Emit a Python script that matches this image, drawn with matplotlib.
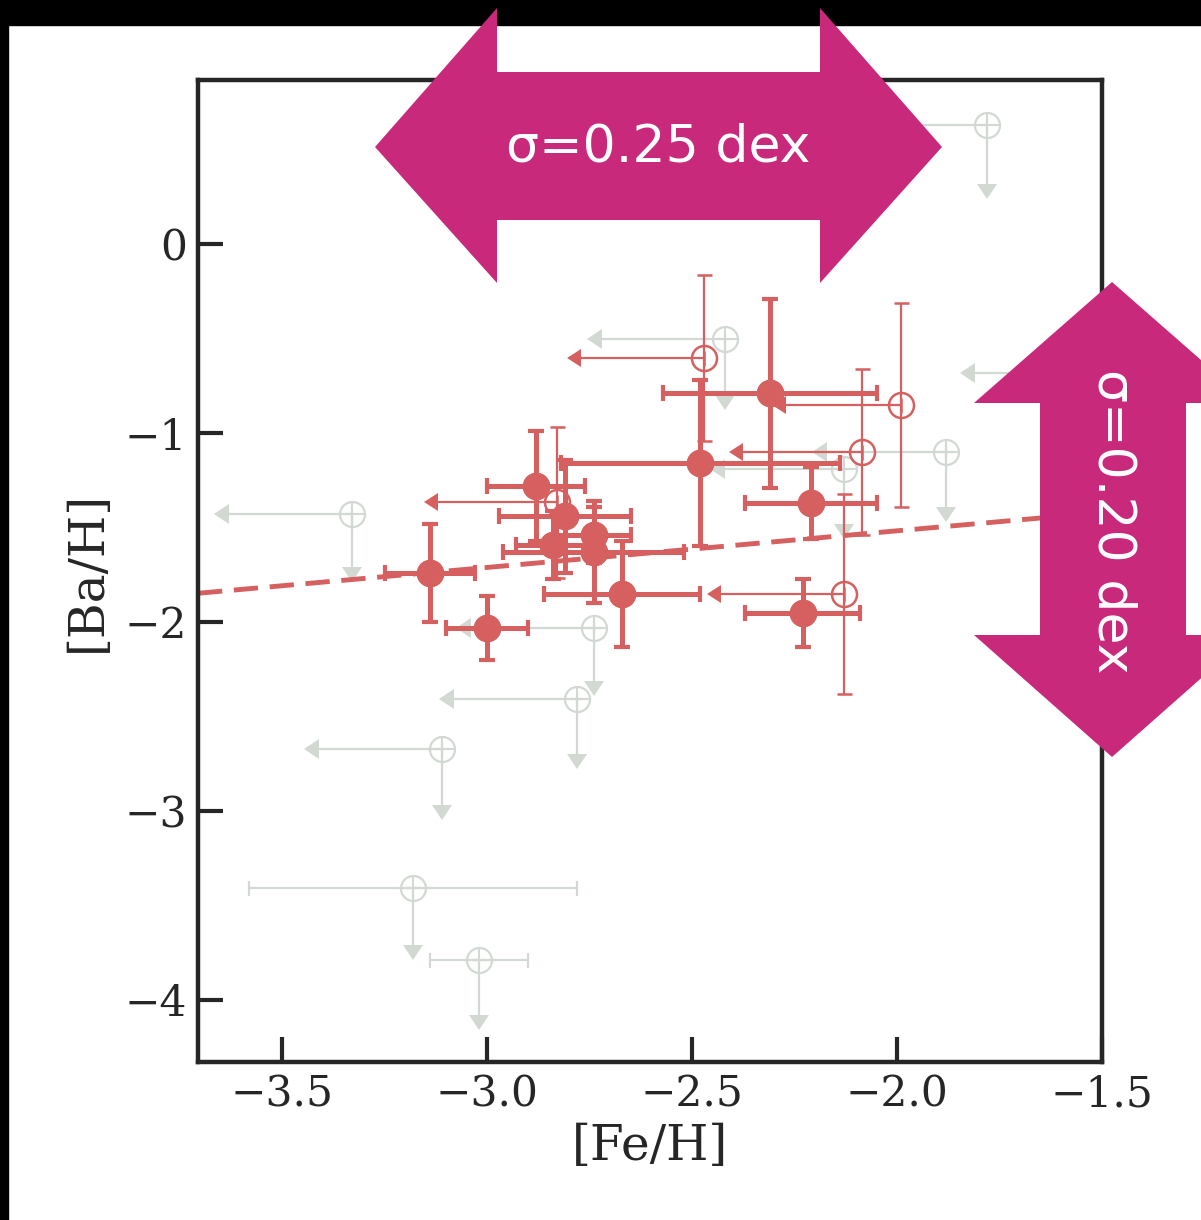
import numpy as np
import matplotlib
matplotlib.use("Agg")
import matplotlib.pyplot as plt
from matplotlib.patches import Polygon, Rectangle

# ---- data -------------------------------------------------------------
# detections: [Fe/H], [Ba/H] with symmetric errors
det_feh = [-3.14, -3.00, -2.88, -2.81, -2.84, -2.74, -2.74, -2.67, -2.48, -2.31, -2.21, -2.23]
det_bah = [-1.74, -2.03, -1.28, -1.44, -1.59, -1.54, -1.63, -1.85, -1.16, -0.79, -1.37, -1.95]
det_feh_err = [0.11, 0.10, 0.12, 0.16, 0.09, 0.09, 0.22, 0.19, 0.34, 0.26, 0.16, 0.14]
det_bah_err = [0.26, 0.17, 0.29, 0.30, 0.18, 0.15, 0.27, 0.28, 0.44, 0.50, 0.19, 0.18]

# [Fe/H] upper limits with measured [Ba/H]
lim_feh = [-2.47, -1.99, -2.085, -2.13, -2.83]
lim_bah = [-0.60, -0.85, -1.10, -1.85, -1.365]
lim_feh_len = [0.30, 0.28, 0.29, 0.30, 0.29]
lim_bah_err = [0.44, 0.54, 0.44, 0.53, 0.40]

# [Ba/H] upper limits (background sample)
ul_feh = [-1.78, -2.42, -3.33, -2.74, -2.78, -3.11, -3.18, -3.02, -1.88, -2.13, -1.51]
ul_bah = [0.63, -0.50, -1.43, -2.03, -2.41, -2.67, -3.41, -3.79, -1.10, -1.19, -0.68]
ul_feh_err = [0.30, 0.30, 0.30, 0.30, 0.30, 0.30, 0.40, 0.12, 0.29, 0.29, 0.30]
ul_feh_is_limit = [True, True, True, True, True, True, False, False, True, True, True]
ul_bah_len = [0.31, 0.30, 0.28, 0.28, 0.29, 0.30, 0.30, 0.29, 0.29, 0.29, 0.29]

# linear trend
trend_intercept = -1.847   # value at [Fe/H] = -3.7
trend_slope = 0.194

x_ticks = [-3.5, -3.0, -2.5, -2.0, -1.5]
y_ticks = [0, -1, -2, -3, -4]

# ---- style ------------------------------------------------------------
RED = "#d65f5f"
GREY = "#d2d9d2"
MAGENTA = "#c9297b"
SPINE = "#262626"

W, H = 1201, 1220
fig = plt.figure(figsize=(W / 100, H / 100), dpi=100)
fig.patch.set_facecolor("white")

# dark framing strips along the top and left edges
fig.patches.append(Rectangle((0, 1 - 25 / H), 1, 25 / H, transform=fig.transFigure,
                             color="black", zorder=0))
fig.patches.append(Rectangle((0, 0), 8 / W, 1, transform=fig.transFigure,
                             color="black", zorder=0))

ax = fig.add_axes([198 / W, 1 - 1062 / H, (1102 - 198) / W, (1062 - 80) / H])
ax.set_xlim(-3.705, -1.5)
ax.set_ylim(-4.33, 0.87)


def paint_caps(container, color, caret_size):
    """Give cap lines and limit carets a single solid colour."""
    for cap in container[1]:
        cap.set_color(color)
        cap.set_markerfacecolor(color)
        cap.set_markeredgecolor(color)
        if cap.get_marker() not in ("|", "_"):
            cap.set_markersize(caret_size)
            cap.set_markeredgewidth(0)


# background upper-limit sample
eb = ax.errorbar(ul_feh, ul_bah, xerr=ul_feh_err, yerr=ul_bah_len,
                 xuplims=ul_feh_is_limit, uplims=True,
                 fmt="o", ms=18, mfc="none", mec=GREY, mew=1.6,
                 ecolor=GREY, elinewidth=1.6, capsize=5.4, capthick=1.6, zorder=1)
paint_caps(eb, GREY, 14)
ax.plot(ul_feh, ul_bah, ls="none", marker="+", ms=17, mec=GREY, mew=1.4, zorder=1)

# trend line
xx = np.array([-3.705, -1.5])
ax.plot(xx, trend_intercept + trend_slope * (xx + 3.7), color=RED, lw=3.5,
        dashes=(5, 2.4), zorder=2)

# [Fe/H] upper limits
eb = ax.errorbar(lim_feh, lim_bah, xerr=lim_feh_len, yerr=lim_bah_err,
                 xuplims=True, fmt="o", ms=18, mfc="none", mec=RED, mew=1.8,
                 ecolor=RED, elinewidth=1.6, capsize=5.4, capthick=1.6, zorder=3)
paint_caps(eb, RED, 13)

# detections
eb = ax.errorbar(det_feh, det_bah, xerr=det_feh_err, yerr=det_bah_err,
                 fmt="o", ms=19, color=RED, mec=RED,
                 ecolor=RED, elinewidth=3.6, capsize=5.6, capthick=3.0, zorder=4)

ax.set_xticks(x_ticks)
ax.set_xticklabels([f"{v:.1f}".replace("-", "\u2212") for v in x_ticks])
ax.set_yticks(y_ticks)
ax.set_yticklabels([f"{v:d}".replace("-", "\u2212") for v in y_ticks])

for s in ax.spines.values():
    s.set_linewidth(3.2)
    s.set_color(SPINE)
ax.tick_params(direction="in", length=18, width=3.0, color=SPINE,
               labelsize=30.5, pad=8, labelcolor=SPINE)
for lab in ax.get_xticklabels() + ax.get_yticklabels():
    lab.set_family("DejaVu Serif")

ax.set_xlabel("[Fe/H]", family="DejaVu Serif", fontsize=35, color=SPINE, labelpad=6)
ax.set_ylabel("[Ba/H]", family="DejaVu Serif", fontsize=35, color=SPINE, labelpad=10)

# ---- scatter annotations: double-headed arrows -----------------------
def px(points):
    return [(x / W, 1 - y / H) for x, y in points]

h_arrow = [(375, 147), (497, 8), (497, 72), (820, 72), (820, 8), (942, 147),
           (820, 283), (820, 220), (497, 220), (497, 283)]
v_arrow = [(1112, 282), (1250, 403), (1186, 403), (1186, 635), (1250, 635),
           (1112, 757), (974, 635), (1040, 635), (1040, 403), (974, 403)]
for poly in (h_arrow, v_arrow):
    fig.patches.append(Polygon(px(poly), closed=True, transform=fig.transFigure,
                               facecolor=MAGENTA, edgecolor="none", zorder=10))

fig.text(658 / W, 1 - 148 / H, "\u03c3=0.25 dex", color="white", fontsize=37.5,
         family="DejaVu Sans", ha="center", va="center", zorder=11)
fig.text(1112 / W, 1 - 521 / H, "\u03c3=0.20 dex", color="white", fontsize=37.5,
         family="DejaVu Sans", ha="center", va="center", rotation=-90, zorder=11)

fig.savefig("out.png", dpi=100, facecolor=fig.get_facecolor())
